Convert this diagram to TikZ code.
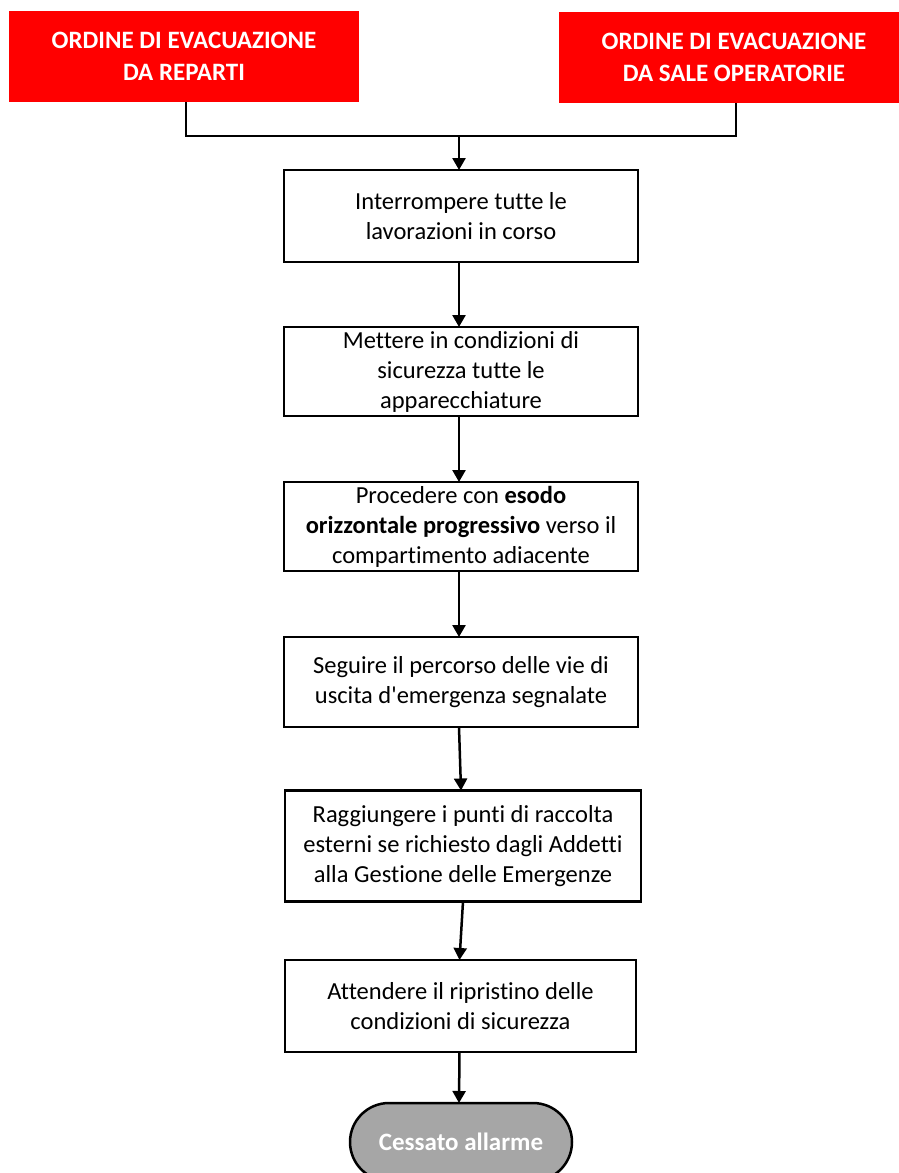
\documentclass[tikz,border=0pt]{standalone}
\usepackage{fontspec}
\setmainfont{Carlito}[Ligatures=NoCommon]
\newfontfamily\plainfont{Carlito}[Ligatures=NoCommon]
\usetikzlibrary{arrows.meta}
\definecolor{redbox}{RGB}{255,0,0}
\definecolor{termgray}{RGB}{166,166,166}
\begin{document}
\begin{tikzpicture}[x=1pt,y=-1pt,
  every node/.style={inner sep=0pt,outer sep=0pt},
  ordbox/.style={fill=redbox,text=white,font=\plainfont\fontsize{25}{32}\selectfont\bfseries,align=center,minimum width=350pt,minimum height=91pt},
  stepbox/.style={draw=black,line width=2.5pt,fill=white,align=center,font=\plainfont\fontsize{24.5}{30}\selectfont,minimum width=354pt},
  termbox/.style={draw=black,line width=2.5pt,fill=termgray,text=white,font=\plainfont\fontsize{25}{30}\selectfont\bfseries,minimum width=222pt,minimum height=78pt,rounded corners=39pt},
  conn/.style={line width=2.5pt,draw=black},
  arr/.style={conn,-{Triangle[length=12pt,width=13pt]}}]
\useasboundingbox (0,0) rectangle (899,1173);
\clip (0,0) rectangle (899,1173);
\fill[white] (0,0) rectangle (899,1173);
\node[ordbox] (r1) at (184,56.5) {ORDINE DI EVACUAZIONE\\DA REPARTI};
\node[ordbox] (r2) at (734,57.5) {ORDINE DI EVACUAZIONE\\DA SALE OPERATORIE};
\node[stepbox,minimum height=92pt] (a) at (461,216) {Interrompere tutte le\\lavorazioni in corso};
\node[stepbox,minimum height=89pt] (b) at (461,371.5) {Mettere in condizioni di\\sicurezza tutte le\\apparecchiature};
\node[stepbox,minimum height=89pt] (c) at (461,526.5) {Procedere con \textbf{esodo}\\\textbf{orizzontale progressivo} verso il\\compartimento adiacente};
\node[stepbox,minimum height=90pt] (d) at (461,682) {Seguire il percorso delle vie di\\uscita d'emergenza segnalate};
\node[stepbox,minimum width=356pt,minimum height=111pt] (e) at (463,846) {Raggiungere i punti di raccolta\\esterni se richiesto dagli Addetti\\alla Gestione delle Emergenze};
\node[stepbox,minimum width=351pt,minimum height=92pt] (f) at (460.5,1006) {Attendere il ripristino delle\\condizioni di sicurezza};
\node[termbox] (t) at (461,1142) {Cessato allarme};
\coordinate (j) at (459,136);
\draw[conn] ([xshift=2pt]r1.south) |- (j);
\draw[conn] ([xshift=2pt]r2.south) |- (j);
\draw[arr] (j) -- (j |- a.north);
\draw[arr] ([xshift=-2pt]a.south) -- ([xshift=-2pt]b.north);
\draw[arr] ([xshift=-2pt]b.south) -- ([xshift=-2pt]c.north);
\draw[arr] ([xshift=-2pt]c.south) -- ([xshift=-2pt]d.north);
\draw[arr] ([xshift=-2pt]d.south) -- ([xshift=-2pt]e.north);
\draw[arr] (e.south) -- ([xshift=-1pt]f.north);
\draw[arr] ([xshift=-1pt]f.south) -- ([xshift=-2pt]t.north);
\end{tikzpicture}
\end{document}
